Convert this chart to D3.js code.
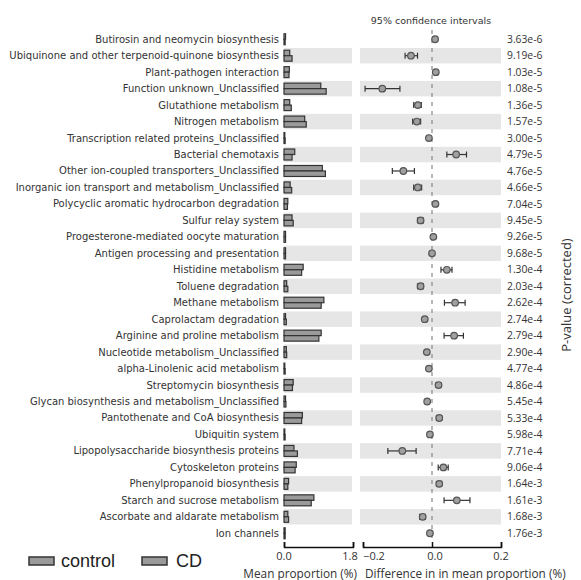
<!DOCTYPE html>
<html>
<head>
<meta charset="utf-8">
<script src="https://cdn.jsdelivr.net/npm/d3@7"></script>
<style>
  body { margin: 0; background: #fff; }
  svg { display: block; }
</style>
</head>
<body>
<svg id="chart" width="581" height="580"></svg>
<script>
// pathways, top to bottom
const categories = [
  'Butirosin and neomycin biosynthesis',
  'Ubiquinone and other terpenoid-quinone biosynthesis',
  'Plant-pathogen interaction',
  'Function unknown_Unclassified',
  'Glutathione metabolism',
  'Nitrogen metabolism',
  'Transcription related proteins_Unclassified',
  'Bacterial chemotaxis',
  'Other ion-coupled transporters_Unclassified',
  'Inorganic ion transport and metabolism_Unclassified',
  'Polycyclic aromatic hydrocarbon degradation',
  'Sulfur relay system',
  'Progesterone-mediated oocyte maturation',
  'Antigen processing and presentation',
  'Histidine metabolism',
  'Toluene degradation',
  'Methane metabolism',
  'Caprolactam degradation',
  'Arginine and proline metabolism',
  'Nucleotide metabolism_Unclassified',
  'alpha-Linolenic acid metabolism',
  'Streptomycin biosynthesis',
  'Glycan biosynthesis and metabolism_Unclassified',
  'Pantothenate and CoA biosynthesis',
  'Ubiquitin system',
  'Lipopolysaccharide biosynthesis proteins',
  'Cytoskeleton proteins',
  'Phenylpropanoid biosynthesis',
  'Starch and sucrose metabolism',
  'Ascorbate and aldarate metabolism',
  'Ion channels'
]
// mean proportion (%)
const controlMean = [0.04, 0.15, 0.14, 0.96, 0.15, 0.54, 0.02, 0.28, 1.00, 0.16, 0.10, 0.21, 0.04, 0.04, 0.50, 0.07,
  1.04, 0.04, 0.97, 0.06, 0.02, 0.24, 0.04, 0.48, 0.02, 0.26, 0.32, 0.12, 0.78, 0.10, 0.03]
const cdMean = [0.03, 0.21, 0.13, 1.10, 0.19, 0.58, 0.03, 0.21, 1.08, 0.20, 0.09, 0.24, 0.04, 0.04, 0.46, 0.10,
  0.97, 0.06, 0.91, 0.07, 0.03, 0.22, 0.05, 0.46, 0.03, 0.35, 0.29, 0.10, 0.71, 0.12, 0.03]
// difference in mean proportion (%) with 95% CI
const diffMean = [0.009, -0.061, 0.011, -0.144, -0.041, -0.044, -0.009, 0.070, -0.083, -0.041, 0.010, -0.033, 0.004,
  0.000, 0.043, -0.033, 0.067, -0.021, 0.064, -0.015, -0.009, 0.019, -0.014, 0.021, -0.006, -0.086, 0.033, 0.021,
  0.072, -0.027, -0.006]
const ciLow = [0.006, -0.078, 0.008, -0.194, -0.053, -0.056, -0.011, 0.043, -0.115, -0.053, 0.008, -0.042, 0.002,
  -0.002, 0.026, -0.042, 0.036, -0.024, 0.035, -0.018, -0.011, 0.012, -0.017, 0.013, -0.008, -0.128, 0.018, 0.013,
  0.035, -0.036, -0.008]
const ciHigh = [0.012, -0.042, 0.014, -0.093, -0.031, -0.033, -0.007, 0.100, -0.051, -0.030, 0.013, -0.025, 0.006,
  0.002, 0.058, -0.025, 0.096, -0.018, 0.091, -0.012, -0.007, 0.026, -0.011, 0.028, -0.004, -0.046, 0.047, 0.028,
  0.110, -0.019, -0.004]
const pValues = ['3.63e-6', '9.19e-6', '1.03e-5', '1.08e-5', '1.36e-5', '1.57e-5', '3.00e-5', '4.79e-5', '4.76e-5',
  '4.66e-5', '7.04e-5', '9.45e-5', '9.26e-5', '9.68e-5', '1.30e-4', '2.03e-4', '2.62e-4', '2.74e-4', '2.79e-4',
  '2.90e-4', '4.77e-4', '4.86e-4', '5.45e-4', '5.33e-4', '5.98e-4', '7.71e-4', '9.06e-4', '1.64e-3', '1.61e-3',
  '1.68e-3', '1.76e-3']
const groups = ['control', 'CD']
const meanTicks = [0, 1.8]
const diffTicks = [-0.2, 0, 0.2]

const rows = categories.map((name, i) => ({
  name, i, control: controlMean[i], cd: cdMean[i],
  diff: diffMean[i], lo: ciLow[i], hi: ciHigh[i], p: pValues[i]
}))

const svg = d3.select('#chart')
const y = d3.scaleBand().domain(categories).range([31, 541.5])
const xMean = d3.scaleLinear().domain([0, 1.8]).range([284, 353])
const xDiff = d3.scaleLinear().domain([-0.2, 0.2]).range([363, 501])

const txt = '#333'
const barFill = '#9a9a9a'
const barStroke = '#333'
const band = '#e6e6e6'

// zebra bands
const striped = rows.filter((d) => d.i % 2 === 1)
svg.append('g').selectAll('rect').data(striped).enter().append('rect')
  .attr('x', xMean(0)).attr('width', 352 - xMean(0))
  .attr('y', (d) => y(d.name) + 0.5).attr('height', y.bandwidth() - 1)
  .attr('fill', band)
svg.append('g').selectAll('rect').data(striped).enter().append('rect')
  .attr('x', 360).attr('width', xDiff(0.2) - 360)
  .attr('y', (d) => y(d.name) + 0.5).attr('height', y.bandwidth() - 1)
  .attr('fill', band)

// labels
svg.append('g').selectAll('text').data(rows).enter().append('text')
  .attr('x', 279).attr('y', (d) => y(d.name) + y.bandwidth() / 2)
  .attr('dy', '0.35em').attr('text-anchor', 'end')
  .attr('font-family', 'DejaVu Sans').attr('font-size', 10).attr('fill', txt)
  .text((d) => d.name)

// mean proportion bars
const barH = 5.5
const bars = svg.append('g')
bars.selectAll('.ctl').data(rows).enter().append('rect')
  .attr('class', 'ctl')
  .attr('x', xMean(0)).attr('width', (d) => Math.max(xMean(d.control) - xMean(0), 0.8))
  .attr('y', (d) => y(d.name) + y.bandwidth() / 2 - barH).attr('height', barH)
  .attr('fill', barFill).attr('stroke', barStroke).attr('stroke-width', 1.2)
bars.selectAll('.cd').data(rows).enter().append('rect')
  .attr('class', 'cd')
  .attr('x', xMean(0)).attr('width', (d) => Math.max(xMean(d.cd) - xMean(0), 0.8))
  .attr('y', (d) => y(d.name) + y.bandwidth() / 2).attr('height', barH)
  .attr('fill', barFill).attr('stroke', barStroke).attr('stroke-width', 1.2)

// zero reference line
svg.append('line')
  .attr('x1', xDiff(0)).attr('x2', xDiff(0)).attr('y1', 30).attr('y2', 541)
  .attr('stroke', '#888').attr('stroke-width', 1.2).attr('stroke-dasharray', '4,5')

// confidence intervals
const ci = svg.append('g').selectAll('g').data(rows).enter().append('g')
  .attr('transform', (d) => `translate(0,${y(d.name) + y.bandwidth() / 2})`)
ci.append('line')
  .attr('x1', (d) => xDiff(d.lo)).attr('x2', (d) => xDiff(d.hi))
  .attr('stroke', '#333').attr('stroke-width', 1.2)
ci.selectAll('.cap').data((d) => [d.lo, d.hi]).enter().append('line')
  .attr('class', 'cap')
  .attr('x1', (v) => xDiff(v)).attr('x2', (v) => xDiff(v)).attr('y1', -3).attr('y2', 3)
  .attr('stroke', '#333').attr('stroke-width', 1.2)
ci.append('circle')
  .attr('cx', (d) => xDiff(d.diff)).attr('r', 3.3)
  .attr('fill', '#a0a0a0').attr('stroke', '#555').attr('stroke-width', 1.2)

// p-values
svg.append('g').selectAll('text').data(rows).enter().append('text')
  .attr('x', 507).attr('y', (d) => y(d.name) + y.bandwidth() / 2)
  .attr('dy', '0.35em')
  .attr('font-family', 'Open Sans').attr('font-size', 10.3).attr('fill', txt)
  .text((d) => d.p)

svg.append('text')
  .attr('transform', 'translate(566,295) rotate(-90)')
  .attr('text-anchor', 'middle').attr('dy', '0.35em')
  .attr('font-family', 'Open Sans').attr('font-size', 13).attr('fill', txt)
  .text('P-value (corrected)')

svg.append('text')
  .attr('x', 431).attr('y', 21).attr('dy', '0.35em').attr('text-anchor', 'middle')
  .attr('font-family', 'DejaVu Sans').attr('font-size', 9.5).attr('fill', txt)
  .text('95% confidence intervals')

// bottom axes
const axisY = 547
const meanAxis = svg.append('g').attr('transform', `translate(0,${axisY})`)
  .call(d3.axisTop(xMean).tickValues(meanTicks).tickSize(5).tickFormat(d3.format('.1f')))
meanAxis.selectAll('text').remove()
const diffAxis = svg.append('g').attr('transform', `translate(0,${axisY})`)
  .call(d3.axisTop(xDiff).tickValues(diffTicks).tickSize(5).tickFormat(d3.format('.1f')))
diffAxis.selectAll('text').remove()
svg.selectAll('.domain').attr('stroke', '#111').attr('stroke-width', 1.5)
svg.selectAll('.tick line').attr('stroke', '#111').attr('stroke-width', 1.5)

// tick labels, nudged inward at the panel edges as in the original
const meanLabelX = (d) => d === 0 ? xMean(d) : xMean(d) - 3
const diffLabelX = (d) => d < 0 ? xDiff(d) + 11 : (d === 0 ? xDiff(d) + 3 : xDiff(d))
svg.append('g').selectAll('text').data(meanTicks).enter().append('text')
  .attr('x', meanLabelX).attr('y', 556).attr('dy', '0.35em').attr('text-anchor', 'middle')
  .attr('font-family', 'Open Sans').attr('font-size', 11).attr('fill', txt)
  .text(d3.format('.1f'))
svg.append('g').selectAll('text').data(diffTicks).enter().append('text')
  .attr('x', diffLabelX).attr('y', 556).attr('dy', '0.35em').attr('text-anchor', 'middle')
  .attr('font-family', 'Open Sans').attr('font-size', 11).attr('fill', txt)
  .text(d3.format('.1f'))

svg.append('text')
  .attr('x', 357).attr('y', 574).attr('dy', '0.35em').attr('text-anchor', 'end')
  .attr('font-family', 'Open Sans').attr('font-size', 11.8).attr('fill', txt)
  .text('Mean proportion (%)')
svg.append('text')
  .attr('x', 365).attr('y', 574).attr('dy', '0.35em')
  .attr('font-family', 'Open Sans').attr('font-size', 11.8).attr('fill', txt)
  .text('Difference in in mean proportion (%)')

// legend
const legend = svg.append('g').selectAll('g').data(groups).enter().append('g')
  .attr('transform', (d, i) => `translate(${29 + i * 113},557)`)
legend.append('rect')
  .attr('width', 25).attr('height', 8)
  .attr('fill', barFill).attr('stroke', barStroke).attr('stroke-width', 1.5)
legend.append('text')
  .attr('x', (d, i) => i === 0 ? 32 : 34).attr('y', 4).attr('dy', '0.35em')
  .attr('font-family', 'Liberation Sans').attr('font-size', 18).attr('fill', '#222')
  .text((d) => d)
</script>
</body>
</html>
